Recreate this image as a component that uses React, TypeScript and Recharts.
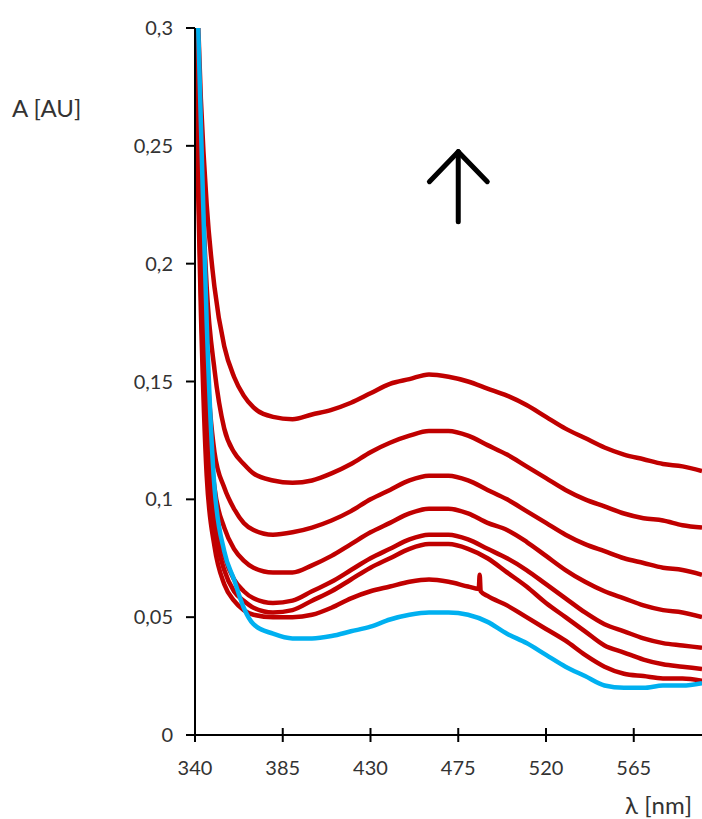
import React, { FC } from 'react';
import {
  LineChart,
  Line,
  XAxis,
  YAxis,
  ReferenceLine,
  Label
} from 'recharts';

// wavelength grid (nm) the spectra were read at
const wavelengths = [
  340, 343, 346, 350, 355, 360, 365, 370, 380, 390, 400, 410, 420, 430, 440, 450, 460,
  470, 480, 490, 500, 510, 520, 530, 540, 550, 560, 570, 580, 590, 600
];

// red spectra, top to bottom
const run1 = [
  0.34, 0.27, 0.225, 0.19, 0.165, 0.152, 0.144, 0.139, 0.135, 0.134, 0.136, 0.138, 0.141,
  0.145, 0.149, 0.151, 0.153, 0.152, 0.15, 0.147, 0.144, 0.14, 0.135, 0.13, 0.126, 0.122,
  0.119, 0.117, 0.115, 0.114, 0.112
];
const run2 = [
  0.34, 0.25, 0.19, 0.155, 0.13, 0.12, 0.115, 0.111, 0.108, 0.107, 0.108, 0.111, 0.115,
  0.12, 0.124, 0.127, 0.129, 0.129, 0.127, 0.123, 0.119, 0.114, 0.109, 0.104, 0.1, 0.097,
  0.094, 0.092, 0.091, 0.089, 0.088
];
const run3 = [
  0.33, 0.23, 0.16, 0.12, 0.105, 0.096, 0.09, 0.087, 0.085, 0.086, 0.088, 0.091, 0.095,
  0.1, 0.104, 0.108, 0.11, 0.11, 0.108, 0.104, 0.1, 0.095, 0.09, 0.085, 0.081, 0.078,
  0.075, 0.073, 0.071, 0.07, 0.068
];
const run4 = [
  0.32, 0.22, 0.145, 0.105, 0.088, 0.079, 0.074, 0.071, 0.069, 0.069, 0.072, 0.076, 0.081,
  0.086, 0.09, 0.094, 0.096, 0.096, 0.094, 0.09, 0.087, 0.082, 0.076, 0.07, 0.065, 0.061,
  0.058, 0.055, 0.053, 0.052, 0.05
];
const run5 = [
  0.31, 0.2, 0.13, 0.095, 0.076, 0.066, 0.061, 0.058, 0.056, 0.057, 0.061, 0.065, 0.07,
  0.075, 0.079, 0.083, 0.085, 0.085, 0.083, 0.079, 0.075, 0.07, 0.064, 0.058, 0.052, 0.047,
  0.044, 0.041, 0.039, 0.038, 0.037
];
const run6 = [
  0.3, 0.19, 0.12, 0.088, 0.07, 0.061, 0.057, 0.054, 0.052, 0.053, 0.057, 0.061, 0.066,
  0.071, 0.075, 0.079, 0.081, 0.081, 0.079, 0.075, 0.069, 0.063, 0.056, 0.05, 0.044, 0.038,
  0.035, 0.032, 0.03, 0.029, 0.028
];
const run7 = [
  0.29, 0.18, 0.11, 0.08, 0.064, 0.057, 0.053, 0.051, 0.05, 0.05, 0.051, 0.054, 0.058,
  0.061, 0.063, 0.065, 0.066, 0.065, 0.063, 0.059, 0.055, 0.05, 0.045, 0.04, 0.034, 0.029,
  0.026, 0.025, 0.024, 0.024, 0.023
];
// the sharp glitch on the lowest red run
const glitchWl = [485.5, 486, 486.5];
const glitchA = [0.062, 0.068, 0.061];

// blue reference spectrum
const baseline = [
  0.35, 0.26, 0.175, 0.105, 0.078, 0.066, 0.054, 0.047, 0.043, 0.041, 0.041, 0.042, 0.044,
  0.046, 0.049, 0.051, 0.052, 0.052, 0.051, 0.048, 0.043, 0.039, 0.034, 0.029, 0.025, 0.021,
  0.02, 0.02, 0.021, 0.021, 0.022
];

const xTicks = [340, 385, 430, 475, 520, 565];
const yTicks = [0, 0.05, 0.1, 0.15, 0.2, 0.25, 0.3];

// arrow annotation, in data units
const arrowTip = { x: 475, y: 0.2475 };
const arrowTail = { x: 475, y: 0.2178 };
const arrowArms = [
  { x: 460.2, y: 0.2348 },
  { x: 489.9, y: 0.2348 }
];

const toRows = (xs: number[], ys: number[]) => xs.map((wl, i) => ({ wl, a: ys[i] }));

const run7Rows = toRows(wavelengths, run7)
  .concat(toRows(glitchWl, glitchA))
  .sort((p, q) => p.wl - q.wl);

const redSeries = [run1, run2, run3, run4, run5, run6].map((r) => toRows(wavelengths, r));
redSeries.push(run7Rows);
const blueSeries = toRows(wavelengths, baseline);

const RED = '#C00000';
const BLUE = '#00B0F0';
const TEXT = '#333333';

const XTick: FC<any> = ({ x, y, payload }) => (
  <g>
    <line x1={x} x2={x} y1={y - 7} y2={y + 7} stroke="#000" strokeWidth={2} />
    <text x={x} y={y + 40} textAnchor="middle" fontSize={20} fill={TEXT}>
      {payload.value}
    </text>
  </g>
);

const YTitle: FC<any> = ({ viewBox }) => (
  <text x={12} y={viewBox.y + 89} fontSize={24} fill={TEXT}>
    A [AU]
  </text>
);

const XTitle: FC<any> = ({ viewBox }) => (
  <text
    x={viewBox.x + viewBox.width - 10}
    y={viewBox.y + 79}
    textAnchor="end"
    fontSize={24}
    fill={TEXT}
  >
    λ [nm]
  </text>
);

const App: FC = () => {
  return (
    <div
      style={{
        position: 'absolute',
        left: 0,
        top: 0,
        width: 702,
        height: 819,
        background: '#fff',
        fontFamily: 'Lato, "Open Sans", sans-serif'
      }}
    >
      <LineChart width={702} height={819} margin={{ top: 28, right: 0, bottom: 0, left: 0 }}>
        <XAxis
          dataKey="wl"
          type="number"
          domain={[340, 600]}
          ticks={xTicks}
          allowDataOverflow
          height={84}
          tickSize={0}
          tickMargin={0}
          tickLine={false}
          axisLine={{ stroke: '#000', strokeWidth: 2 }}
          tick={<XTick />}
          interval={0}
        >
          <Label content={<XTitle />} />
        </XAxis>
        <YAxis
          type="number"
          domain={[0, 0.3]}
          ticks={yTicks}
          allowDataOverflow
          width={195}
          tickSize={9}
          tickMargin={13}
          tickLine={{ stroke: '#000', strokeWidth: 2 }}
          axisLine={{ stroke: '#000', strokeWidth: 2 }}
          tick={{ fontSize: 20, fill: TEXT }}
          tickFormatter={(v: number) => String(v).replace('.', ',')}
          interval={0}
        >
          <Label content={<YTitle />} />
        </YAxis>
        {redSeries.map((rows, j) => (
          <Line
            key={j}
            data={rows}
            dataKey="a"
            type="monotone"
            stroke={RED}
            strokeWidth={4.5}
            dot={false}
            activeDot={false}
            isAnimationActive={false}
          />
        ))}
        <Line
          data={blueSeries}
          dataKey="a"
          type="monotone"
          stroke={BLUE}
          strokeWidth={4.5}
          dot={false}
          activeDot={false}
          isAnimationActive={false}
        />
        <ReferenceLine
          segment={[arrowTail, arrowTip]}
          stroke="#000"
          strokeWidth={5}
          strokeLinecap="round"
          ifOverflow="visible"
        />
        {arrowArms.map((arm, k) => (
          <ReferenceLine
            key={k}
            segment={[arm, arrowTip]}
            stroke="#000"
            strokeWidth={5}
            strokeLinecap="round"
            ifOverflow="visible"
          />
        ))}
      </LineChart>
    </div>
  );
};

export default App;
